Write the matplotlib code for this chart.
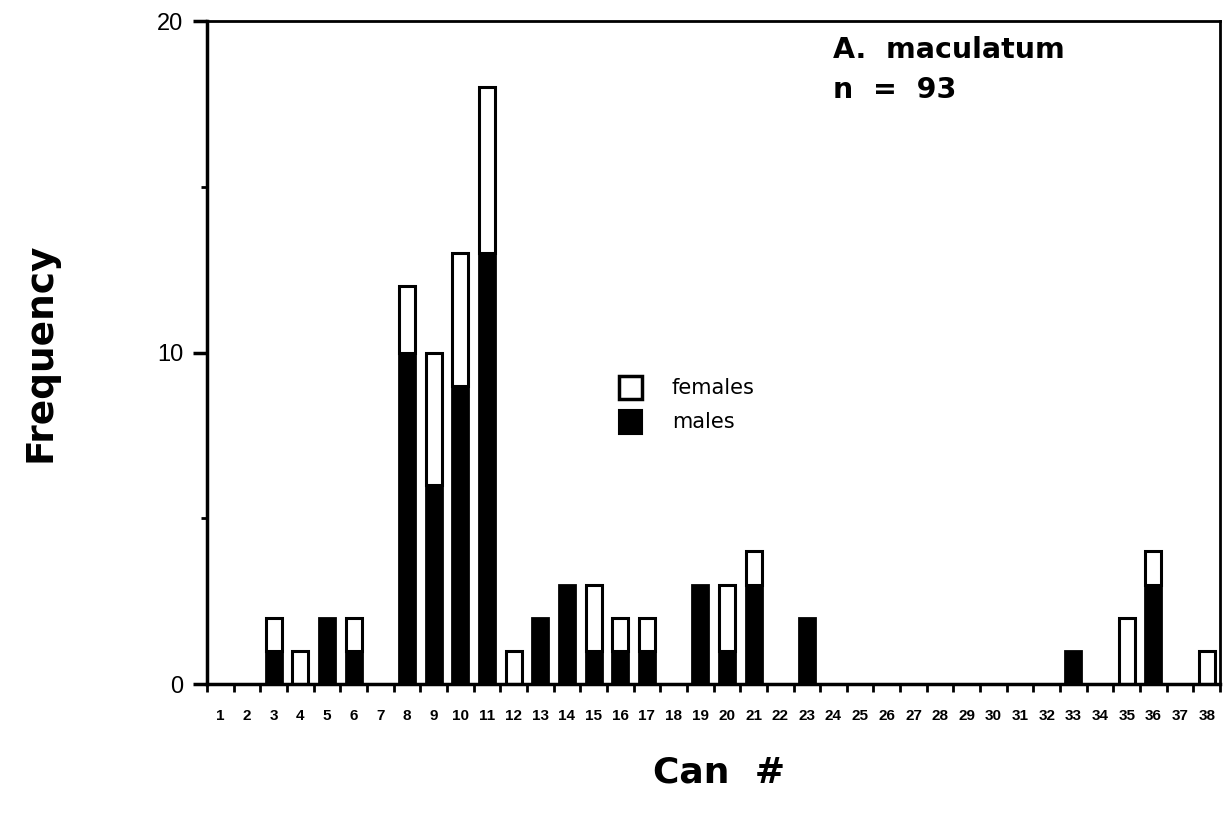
import numpy as np
import matplotlib
matplotlib.use('Agg')
import matplotlib.pyplot as plt
from matplotlib.patches import Rectangle

plt.rcParams['font.family'] = ['Liberation Sans', 'DejaVu Sans']

cans = list(range(1, 39))
# counts per can
males = [0, 0, 1, 0, 2, 1, 0, 10, 6, 9, 13, 0, 2, 3, 1, 1, 1, 0, 3, 1,
         3, 0, 2, 0, 0, 0, 0, 0, 0, 0, 0, 0, 1, 0, 0, 3, 0, 0]
females = [0, 0, 1, 1, 0, 1, 0, 2, 4, 4, 5, 1, 0, 0, 2, 1, 1, 0, 0, 2,
           1, 0, 0, 0, 0, 0, 0, 0, 0, 0, 0, 0, 0, 0, 2, 1, 0, 1]

fig = plt.figure(figsize=(12.28, 8.15), dpi=100)
ax = fig.add_axes([0.1686, 0.1607, 0.8249, 0.8133])

x = np.array(cans)
m = np.array(males)
f = np.array(females)
w = 0.6
ax.bar(x[m > 0], m[m > 0], width=w, color='black', edgecolor='black', linewidth=2)
ax.bar(x[f > 0], f[f > 0], width=w, bottom=m[f > 0], color='white',
       edgecolor='black', linewidth=2.2)

ax.set_xlim(0.5, 38.5)
ax.set_ylim(0, 20)

# ticks at the bin edges, labels at the bin centres
ax.set_xticks(np.arange(0.5, 39, 1))
ax.set_xticklabels([])
ax.set_xticks(x, minor=True)
ax.set_xticklabels([str(c) for c in cans], minor=True, fontsize=11, fontweight='bold')
ax.tick_params(axis='x', which='major', direction='out', length=6, width=2)
ax.tick_params(axis='x', which='minor', length=0, pad=18)

ax.set_yticks([0, 10, 20])
ax.set_yticklabels(['0', '10', '20'], fontsize=17)
ax.set_yticks([5, 15], minor=True)
ax.tick_params(axis='y', which='major', direction='out', length=10, width=2.5, pad=7)
ax.tick_params(axis='y', which='minor', direction='out', length=4, width=2)

for s in ax.spines.values():
    s.set_linewidth(2)
ax.spines['left'].set_linewidth(2.5)
ax.spines['bottom'].set_linewidth(2.5)

ax.set_ylabel('Frequency', fontsize=27, fontweight='bold', family='DejaVu Sans')
ax.yaxis.set_label_coords(-0.147, 0.5)
ax.set_xlabel('Can  #', fontsize=26, fontweight='bold', family='DejaVu Sans')
ax.xaxis.set_label_coords(0.505, -0.108)

ax.text(0.618, 0.956, 'A.  maculatum', transform=ax.transAxes, fontsize=20.5,
        fontweight='bold', va='center', ha='left', family='DejaVu Sans')
ax.text(0.618, 0.896, 'n  =  93', transform=ax.transAxes, fontsize=20.5,
        fontweight='bold', va='center', ha='left', family='DejaVu Sans')

# legend, drawn by hand to match the boxed key
ax.add_patch(Rectangle((0.407, 0.43), 0.022, 0.034, transform=ax.transAxes,
                       facecolor='white', edgecolor='black', linewidth=2.5))
ax.add_patch(Rectangle((0.407, 0.377), 0.022, 0.037, transform=ax.transAxes,
                       facecolor='black', edgecolor='black', linewidth=1.5))
ax.text(0.459, 0.447, 'females', transform=ax.transAxes, fontsize=15,
        va='center', family='DejaVu Sans')
ax.text(0.459, 0.395, 'males', transform=ax.transAxes, fontsize=15,
        va='center', family='DejaVu Sans')

fig.savefig('out.png', dpi=100)
